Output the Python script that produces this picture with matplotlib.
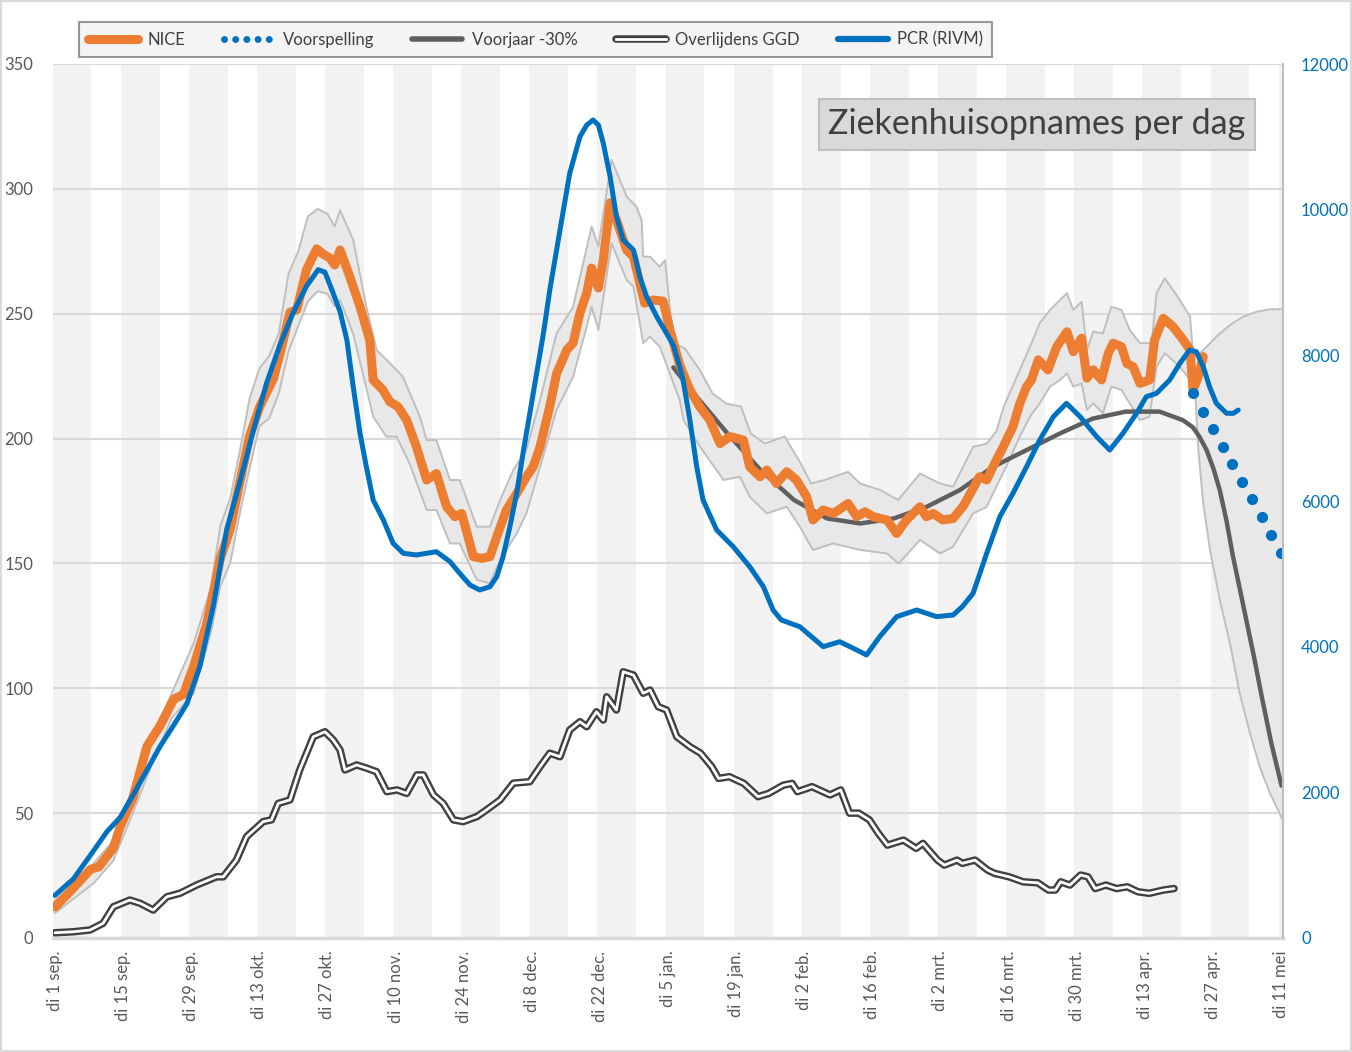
import numpy as np
import matplotlib
matplotlib.use("Agg")
import matplotlib.pyplot as plt
from matplotlib.lines import Line2D
from matplotlib.legend_handler import HandlerTuple

plt.rcParams['font.family'] = ['Lato', 'DejaVu Sans']

# days after di 1 sep. 2020
tick_days = list(range(0, 253, 14))
tick_labels = ['di 1 sep.', 'di 15 sep.', 'di 29 sep.', 'di 13 okt.', 'di 27 okt.',
               'di 10 nov.', 'di 24 nov.', 'di 8 dec.', 'di 22 dec.', 'di 5 jan.',
               'di 19 jan.', 'di 2 feb.', 'di 16 feb.', 'di 2 mrt.', 'di 16 mrt.',
               'di 30 mrt.', 'di 13 apr.', 'di 27 apr.', 'di 11 mei']

# NICE ziekenhuisopnames (left axis)
nice_days = [0, 3.8, 7.3, 9, 12, 13.4, 16, 18.9, 21.6, 24.4, 26.4, 28.5, 31.2, 34, 36, 38, 40,
             42.1, 44.9, 46.2, 48.3, 49.7, 51.7, 53.8, 55, 56.5, 57.5, 58.6, 60.6, 62.7, 64.7,
             65.4, 67.4, 68.8, 70.5, 72.3, 74.3, 76.4, 78.4, 80.5, 82.2, 83.6, 86, 87.7, 89.4,
             90.8, 92.8, 94.9, 96.9, 98.3, 99.7, 101.7, 103.1, 105.2, 106.5, 107.9, 109.3,
             110.3, 111.7, 112.7, 114.1, 115.4, 117.5, 118.9, 120.2, 121.2, 123, 125, 126.4,
             128.4, 130.5, 132.5, 134.6, 136.7, 138.7, 141.5, 142.8, 144.9, 146.3, 148.3,
             150.4, 152.4, 154.5, 155.8, 157.9, 160, 163, 164.8, 166.5, 168.2, 171, 173, 175,
             177.8, 179.1, 180.5, 182.5, 184.6, 186.7, 188.7, 190, 191.5, 192.8, 194.9, 196.9,
             198.3, 199.7, 200.7, 202.1, 204.1, 205.9, 208, 209.3, 211, 212.1, 213.4, 215.1,
             216.5, 217.5, 219.2, 220.3, 221.6, 223, 225, 226, 227.8, 229.8, 231.9, 233.3,
             233.9, 235, 236]
nice_vals = [12.4, 20, 27.5, 28.5, 36, 44.5, 56, 76.7, 85, 95.6, 97.5, 108.8, 125.8, 152, 163.6,
             182.5, 201, 212.8, 224, 233.5, 250.6, 251.5, 267.6, 276, 274, 272.3, 269.5, 275.5,
             264.8, 252.8, 239.5, 223.5, 219.5, 214.8, 212.8, 207.4, 196.7, 183.4, 186, 172.7,
             168.7, 170, 152.7, 152, 152.7, 160.7, 171.4, 178, 184.7, 188.7, 196.7, 212.8, 226,
             235.5, 238.3, 250.3, 258.3, 268.3, 260.3, 271.5, 294.4, 287.5, 275.5, 272.8, 262.2,
             254.2, 255.5, 255, 243.5, 229.5, 219.5, 212.8, 207.4, 198, 200.8, 199.4, 188.7,
             184.7, 187.4, 182, 186.7, 183.4, 176.7, 167.4, 171.4, 170, 174, 168.7, 170.7, 168.7,
             167.4, 162, 167.4, 172.7, 168.7, 170, 167.4, 168, 173, 180, 184.7, 183.4, 188.7,
             196.7, 204.8, 214, 220.8, 223.5, 231.5, 227.5, 236.8, 242.8, 234.8, 240.2, 224.2,
             227.5, 223.5, 234.2, 238.2, 236.8, 230.1, 228.8, 222.1, 223.5, 239.5, 248.2, 244.8,
             239.5, 235.5, 219.5, 224.8, 232.8]

# NICE band (upper / lower)
band_hi_days = [0, 4, 8, 12, 16, 20, 24, 28.5, 32, 34, 36, 38, 40, 42, 44, 46, 48, 50, 52, 54,
                56, 57.5, 58.6, 61.3, 64, 66.1, 68.8, 71.5, 75, 76.4, 78.4, 81.2, 83.2, 86.7,
                89.4, 91.5, 94.2, 96.9, 99.7, 103.1, 106.5, 110.3, 111.7, 114.4, 117.5, 119.5,
                120.6, 120.9, 122.3, 124.3, 125.4, 126.5, 127.5, 129.5, 132.5, 135.2, 138, 141,
                143, 145.9, 150, 153.3, 155.4, 158.2, 163, 165.5, 169.6, 173.3, 177.8, 181.9,
                184.6, 188.7, 191.5, 193.5, 195, 198.3, 200.4, 202.4, 204.5, 206.6, 208, 209.3,
                211, 212.1, 213.4, 215.4, 217.1, 219.2, 220.9, 223, 225.4, 226.4, 228.1, 231.2,
                233.3]
band_hi = [15, 22, 30, 39, 60, 80, 98, 118, 140, 165, 176, 195, 216, 228, 233, 242, 266, 275,
           289, 292, 290, 285, 291.5, 279.5, 252.8, 235.5, 230.3, 224.8, 208.8, 199.4, 199.4,
           183.4, 183.4, 164.7, 164.7, 175.4, 187.4, 195.4, 215.5, 242.1, 252.8, 284.9, 276.9,
           311.6, 296.9, 292.9, 287.5, 272.9, 272.8, 268.8, 271.5, 250, 238, 236, 227.5, 218,
           214, 212.8, 202, 198, 200.8, 190, 182, 183.4, 186.7, 182, 179.4, 175.4, 186, 182,
           180.7, 196.7, 198, 203, 212.8, 227.5, 236.8, 246.2, 251.5, 255.5, 258.2, 251.5, 254.8,
           235.5, 242.8, 242.1, 252.8, 251.5, 243.5, 238.2, 238.2, 258.2, 264.2, 255.5, 248.8]
band_lo_days = [0, 4, 8, 12, 16, 20, 24, 28.5, 32, 34, 36, 38, 40, 42, 44, 46, 48, 50, 52, 54,
                56, 57.5, 58.6, 61.3, 65.4, 68.1, 70.2, 72.9, 76.4, 78.4, 81.2, 83.2, 86.7, 89.4,
                91.5, 94.9, 96.9, 99.7, 103.1, 106.5, 109.3, 110.3, 111.7, 114.4, 117.5, 118.9,
                120.9, 122.3, 124.3, 128.4, 129.2, 132.6, 137.4, 140.8, 142.8, 146.3, 150.4,
                153.1, 155.8, 159.9, 165.5, 171, 173.4, 177.8, 181.9, 184.6, 188.7, 191.5, 192.8,
                195.5, 198.3, 200.4, 202.4, 204.5, 206.6, 208, 209.3, 211, 212.1, 213.4, 215.4,
                217.1, 219.2, 220.9, 223, 225, 226.4, 228.1, 231.2, 233.3]
band_lo = [10, 16, 22, 31, 50, 70, 88, 98, 122, 141, 150, 170, 188, 205, 208, 218, 235, 245,
           255, 259, 258, 253, 255.5, 242, 208.8, 200.8, 200.8, 190, 171.4, 171.4, 158, 158,
           143.4, 142, 151.4, 162, 170, 188.7, 211.5, 224.8, 244.8, 252.8, 243.5, 278.2, 263.5,
           260.8, 238.2, 240.8, 236.8, 215.5, 207.4, 196.7, 183.4, 184.7, 176.7, 170, 172.7,
           164.7, 155.4, 158, 155.4, 154, 150, 159.4, 154, 156.7, 170, 172.7, 178, 188.7, 200.8,
           208.8, 214.1, 220.8, 223.5, 226.1, 220.8, 222.1, 211.5, 214.1, 210.1, 220.8, 219.5,
           214.1, 207.4, 208.8, 228.8, 234.2, 228.8, 223.5]

# forecast band
fc_hi_days = [233.3, 234.6, 236.7, 238.7, 241.5, 244.2, 247, 249.7, 252.4]
fc_hi = [236, 232.8, 236.8, 240.8, 245.5, 248.8, 250.8, 251.8, 251.8]
fc_lo_days = [233.3, 234, 235, 236, 237.4, 239.4, 241.5, 243.5, 245.6, 247.6, 249.7, 251.7, 252.4]
fc_lo = [248.8, 231.5, 195.4, 174, 155.4, 135.4, 118, 98, 82, 68.6, 58, 50, 47]

# Voorspelling (dots)
pred_days = [234, 236, 238, 240, 242, 244, 246, 248, 250, 252]
pred_vals = [218.1, 210.8, 203.8, 196.7, 189.8, 182.7, 175.8, 168.6, 161.5, 154.3]

# Voorjaar -30%
spring_days = [127.1, 131.3, 138.2, 145, 151.9, 158.7, 165.5, 172.4, 179.2, 186, 192.8, 199.7,
               206.5, 213.3, 220.1, 227, 231.8, 233.9, 235.3, 236.7, 238.1, 239.4, 240.8, 242.1,
               243.5, 245, 246.5, 248, 250, 252.1]
spring_vals = [228.5, 218.1, 202.1, 187.4, 175.4, 168, 166, 168, 172.7, 179.4, 188.7, 195.4,
               202, 208, 210.8, 210.8, 207.4, 204.5, 200.5, 195.4, 188, 179.4, 167, 153, 140,
               126, 112, 97, 78, 61]

# Overlijdens GGD
death_days = [0, 3.8, 7.2, 9.9, 12, 15.4, 17.5, 20.2, 23, 25.7, 29.1, 33.2, 34.6, 37.3, 39.4,
              42.8, 44.5, 45.9, 48.3, 50.3, 53.1, 55.5, 57.2, 58.6, 59.6, 62, 64.1, 66.1, 68.2,
              70.3, 72.3, 74.4, 75.7, 77.8, 79.8, 81.9, 83.9, 86.7, 88.7, 91.5, 94.2, 97.6, 99.7,
              101.7, 103.8, 105.8, 107.9, 109.3, 111.3, 112.7, 113.4, 115.4, 116.8, 118.9, 120.9,
              122.3, 124, 125.7, 127.8, 130.5, 132.7, 135, 136.4, 138.6, 141.6, 144.5, 146.7,
              149.7, 151.5, 152.6, 155.6, 159.3, 161.5, 163.3, 165.2, 167.4, 169.2, 171.1, 174.4,
              177, 178.4, 181.4, 182.8, 185.4, 186.5, 189.1, 191.7, 193.1, 196.1, 199, 202, 204.2,
              205.6, 206.7, 208.6, 210.8, 212.3, 213.8, 216, 218.2, 220.4, 222.6, 224.9, 227.8, 230]
death_vals = [2.1, 2.5, 3.2, 5.9, 12.5, 15.2, 13.9, 11.2, 16.5, 17.9, 21.2, 24.5, 24.5, 31.2, 40.6,
              46.6, 47.3, 53.9, 55.3, 67.3, 80.6, 82.6, 79.3, 75.3, 67.3, 69.3, 68, 66.6, 58.6,
              59.3, 57.9, 65.3, 65.3, 57.3, 53.9, 47.3, 46.6, 48.6, 51.3, 55.3, 62, 62.6, 68.6, 74,
              72.6, 83.3, 86.6, 84.6, 90.6, 87.3, 96.6, 91.3, 106.6, 105.3, 98, 99.3, 92.6, 91.3,
              80.6, 76.6, 74, 68.6, 63.9, 64.6, 61.9, 56.6, 57.9, 61.2, 61.9, 58.6, 60.6, 57.3,
              59.3, 50, 50, 47.3, 42, 37.2, 39.2, 35.9, 37.9, 31.2, 29.2, 31.2, 29.9, 31.2, 27.2,
              25.9, 24.5, 22.5, 22.1, 19.2, 19.2, 22.5, 21.2, 25.2, 24.5, 19.8, 21.2, 19.8, 20.5,
              18.5, 17.9, 19.2, 19.8]

# PCR positief (RIVM), right axis
pcr_days = [0, 3.8, 7.3, 10.7, 13.4, 16.2, 18.9, 21.6, 24.4, 27.1, 29.8, 32.6, 35.3, 38, 40.8,
            43.5, 46.2, 49, 51.7, 54.1, 55.5, 57.2, 58.6, 60, 61.3, 62.7, 64, 65.4, 67.5, 69.5,
            71.6, 74.3, 78.4, 81.2, 83.2, 85.3, 87.3, 89.4, 90.8, 92.1, 93.5, 94.9, 96.2, 97.6,
            99, 100.4, 101.7, 103.1, 104.5, 105.8, 107.9, 109.3, 110.6, 111.7, 112.7, 114.1,
            115.4, 116.8, 118.9, 120.2, 121.6, 123.7, 125.7, 127.1, 128.4, 129.1, 130.5, 131.9,
            133.2, 136, 139.4, 142.8, 145.6, 147.6, 149.3, 153.1, 157.9, 161.3, 164.8, 166.8,
            169.5, 173, 177.1, 181.2, 184.6, 186.5, 188.7, 191.5, 194.2, 196.9, 199.7, 202.4,
            205.2, 207.9, 210.7, 214.1, 216.8, 219.5, 222.3, 224.3, 226.4, 229.1, 231.2, 233.2,
            234.6, 236, 237.3, 238.7, 240.8, 242.2, 243.2]
pcr_vals = [586, 812, 1138, 1461, 1656, 1979, 2304, 2630, 2921, 3213, 3731, 4574, 5610, 6258,
            6971, 7619, 8137, 8593, 8949, 9176, 9141, 8850, 8600, 8211, 7570, 6930, 6471, 6014,
            5739, 5419, 5282, 5259, 5304, 5167, 5007, 4847, 4778, 4823, 4961, 5235, 5647, 6105,
            6655, 7204, 7753, 8302, 8897, 9446, 9995, 10499, 11002, 11162, 11231, 11162, 10911,
            10453, 9904, 9584, 9446, 9080, 8805, 8530, 8302, 8140, 7844, 7661, 7112, 6471, 6014,
            5602, 5373, 5098, 4824, 4503, 4366, 4274, 4000, 4068, 3954, 3886, 4137, 4412, 4503,
            4412, 4435, 4550, 4732, 5282, 5785, 6106, 6471, 6837, 7158, 7341, 7158, 6883, 6700,
            6929, 7204, 7432, 7478, 7661, 7890, 8073, 8050, 7844, 7570, 7341, 7204, 7204, 7249]

ORANGE = '#ED7D31'
BLUE = '#0070C0'
GREY_TXT = '#595959'

fig = plt.figure(figsize=(13.52, 10.52), dpi=100)
ax = fig.add_axes([53 / 1352, 1 - 938 / 1052, 1230 / 1352, 874 / 1052])
ax2 = ax.twinx()

# weekly background stripes
for d in tick_days:
    ax.axvspan(d - 0.5, d + 7.5, color='#f2f2f2', lw=0, zorder=0)

ax.set_axisbelow(True)
ax.yaxis.grid(True, color='#d9d9d9', lw=1.5)

# bands
ax.fill(np.concatenate([band_hi_days, band_lo_days[::-1]]),
        np.concatenate([band_hi, band_lo[::-1]]), color='#e8e8e8', lw=0, zorder=1)
ax.fill(np.concatenate([fc_hi_days, fc_lo_days[::-1]]),
        np.concatenate([fc_hi, fc_lo[::-1]]), color='#e8e8e8', lw=0, zorder=1)
for dd, vv in [(band_hi_days, band_hi), (band_lo_days, band_lo),
               (fc_hi_days, fc_hi), (fc_lo_days, fc_lo)]:
    ax.plot(dd, vv, color='#bfbfbf', lw=1.4, zorder=2)

ax.plot(spring_days, spring_vals, color='#5f5f5f', lw=3.2, zorder=3, solid_capstyle='round')
ax.plot(death_days, death_vals, color='#404040', lw=5.4, zorder=3, solid_capstyle='round')
ax.plot(death_days, death_vals, color='white', lw=2.0, zorder=3, solid_capstyle='round')
ax.plot(nice_days, nice_vals, color=ORANGE, lw=6.5, zorder=4, solid_capstyle='round',
        solid_joinstyle='round')
ax.plot(pred_days, pred_vals, ls='none', marker='o', ms=7, color=BLUE, zorder=5)

ax2.plot(pcr_days, pcr_vals, color=BLUE, lw=3.6, solid_capstyle='round', solid_joinstyle='round')

ax.set_xlim(-0.4, 252.4)
ax.set_ylim(0, 350)
ax2.set_ylim(0, 12000)
ax.set_yticks(range(0, 351, 50))
ax2.set_yticks(range(0, 12001, 2000))
ax.set_xticks(tick_days)
ax.set_xticklabels(tick_labels, rotation=90, va='top', ha='center')

ax.tick_params(axis='x', length=0, pad=9, labelsize=12, labelcolor=GREY_TXT)
ax.tick_params(axis='y', length=0, pad=14, labelsize=12, labelcolor=GREY_TXT)
ax2.tick_params(axis='y', length=0, pad=13, labelsize=12, labelcolor=BLUE)

for sp in ['top', 'left', 'right']:
    ax.spines[sp].set_visible(False)
    ax2.spines[sp].set_visible(False)
ax.spines['bottom'].set_color('#d9d9d9')
ax.spines['bottom'].set_linewidth(2.5)
ax2.spines['bottom'].set_visible(False)
ax2.spines['right'].set_visible(True)
ax2.spines['right'].set_color('#bfbfbf')
ax2.spines['right'].set_linewidth(1.5)

ax.text(0.80, 0.931, 'Ziekenhuisopnames per dag', transform=ax.transAxes, ha='center',
        va='center', fontsize=24.5, color='#404040', zorder=10,
        bbox=dict(boxstyle='square,pad=0.28', facecolor='#d9d9d9', edgecolor='#bfbfbf', lw=1.5))

h_nice = Line2D([], [], color=ORANGE, lw=6.5, solid_capstyle='round')
h_pred = Line2D([], [], ls=(0, (0.01, 1.6)), color=BLUE, lw=5, dash_capstyle='round')
h_spring = Line2D([], [], color='#5f5f5f', lw=4, solid_capstyle='round')
h_death = (Line2D([], [], color='#404040', lw=5.4, solid_capstyle='round'),
           Line2D([], [], color='white', lw=2.0))
h_pcr = Line2D([], [], color=BLUE, lw=4.5, solid_capstyle='round')
leg = fig.legend([h_nice, h_pred, h_spring, h_death, h_pcr],
                 ['NICE', 'Voorspelling', 'Voorjaar -30%', 'Overlijdens GGD', 'PCR (RIVM)'],
                 handler_map={tuple: HandlerTuple(ndivide=1)},
                 loc='center', bbox_to_anchor=(535.5 / 1352, 1 - 39.5 / 1052), ncol=5,
                 fontsize=12, frameon=True, fancybox=False, handlelength=3.0,
                 handletextpad=0.55, columnspacing=2.3, borderpad=0.55, borderaxespad=0)
leg.get_frame().set_facecolor('#f2f2f2')
leg.get_frame().set_edgecolor('#808080')
leg.get_frame().set_linewidth(1.5)
for t in leg.get_texts():
    t.set_color('#404040')

fig.patches.append(plt.Rectangle((0.001, 0.001), 0.998, 0.998, transform=fig.transFigure,
                                 fill=False, edgecolor='#d9d9d9', lw=1.5))

fig.savefig('out.png', dpi=100, facecolor='white')
